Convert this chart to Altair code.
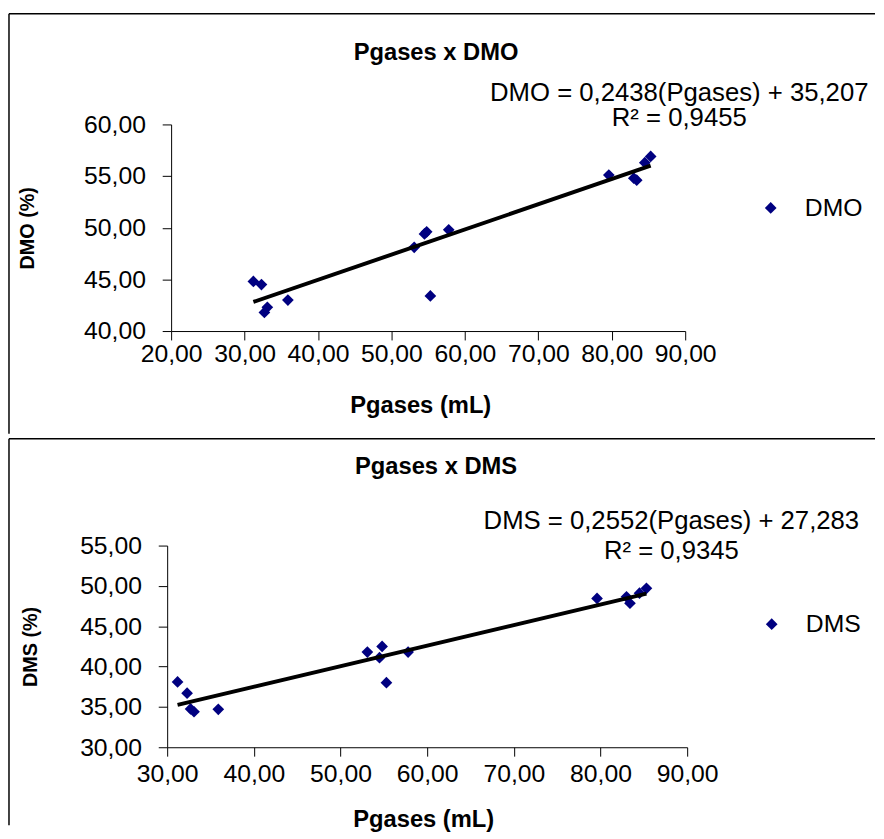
import altair as alt
import pandas as pd

FONT = "Liberation Sans"

# ---- data ----
pgases = [31.2, 32.3, 32.7, 33.1, 35.9, 53.1, 54.5, 54.8, 55.3, 57.8, 79.6, 83.0, 83.4, 84.5, 85.3]
dmo = [44.8, 44.5, 41.8, 42.3, 43.0, 48.1, 49.4, 49.6, 43.4, 49.8, 55.1, 54.8, 54.6, 56.3, 56.9]
dms = [38.1, 36.7, 34.75, 34.4, 34.7, 41.8, 41.1, 42.5, 38.0, 41.8, 48.45, 48.65, 47.85, 49.1, 49.7]

series_names = ["DMO", "DMS"]
titles = ["Pgases x DMO", "Pgases x DMS"]
y_titles = ["DMO (%)", "DMS (%)"]
x_title = "Pgases (mL)"
slopes = [0.2438, 0.2552]
intercepts = [35.207, 27.283]
equations = ["DMO = 0,2438(Pgases) + 35,207", "DMS = 0,2552(Pgases) + 27,283"]
r2_texts = ["R\u00b2 = 0,9455", "R\u00b2 = 0,9345"]
x_domains = [[20, 90], [30, 90]]
y_domains = [[40, 60], [30, 55]]
x_ticks = [[20, 30, 40, 50, 60, 70, 80, 90], [30, 40, 50, 60, 70, 80, 90]]
y_ticks = [[40, 45, 50, 55, 60], [30, 35, 40, 45, 50, 55]]


def panel(i, yvals, w, h, g):
    name = series_names[i]
    pts = pd.DataFrame({"x": pgases, "y": yvals, "s": [name] * len(pgases)})
    x0, x1 = min(pgases), max(pgases)
    line = pd.DataFrame({"x": [x0, x1],
                         "y": [slopes[i] * x0 + intercepts[i], slopes[i] * x1 + intercepts[i]]})

    common_axis = dict(grid=False, tickSize=9, domainColor="black", tickColor="black",
                       domainWidth=1, tickWidth=1, labelColor="black", labelFont=FONT,
                       labelFontSize=25, titleFont=FONT, titleColor="black",
                       titleFontWeight="bold", labelOverlap=False, labelFlush=False,
                       format=".2f", labelExpr="replace(datum.label, '.', ',')",
                       titleAlign="center", titleBaseline="middle")

    xaxis = alt.Axis(values=x_ticks[i], title=x_title, labelPadding=g["xlp"],
                     titleX=g["xtx"], titleY=g["xty"], titleFontSize=24, **common_axis)
    yaxis = alt.Axis(values=y_ticks[i], title=y_titles[i], labelPadding=17, offset=-g["off"],
                     titleAngle=270, titleX=g["ytx"], titleY=h / 2, titleFontSize=20,
                     **common_axis)

    xs = alt.Scale(domain=x_domains[i], nice=False, zero=False, range=[g["off"], w])
    ys = alt.Scale(domain=y_domains[i], nice=False, zero=False)

    points = alt.Chart(pts).mark_point(shape="diamond", filled=True, size=140, opacity=1).encode(
        x=alt.X("x:Q", scale=xs, axis=xaxis),
        y=alt.Y("y:Q", scale=ys, axis=yaxis),
        color=alt.Color("s:N", scale=alt.Scale(domain=[name], range=["#000080"]),
                        legend=alt.Legend(title=None, orient="none", legendX=g["lx"], legendY=g["ly"],
                                          symbolType="diamond", symbolSize=140, labelFont=FONT,
                                          labelFontSize=25, labelColor="black", labelOffset=22,
                                          padding=0, symbolStrokeWidth=0)),
    )
    reg = alt.Chart(line).mark_line(color="black", strokeWidth=4).encode(
        x=alt.X("x:Q", scale=xs), y=alt.Y("y:Q", scale=ys))

    title = alt.Chart(pd.DataFrame({"t": [titles[i]]})).mark_text(
        font=FONT, fontSize=24, fontWeight="bold", color="black",
        align="center", baseline="middle").encode(
        text="t:N", x=alt.value(g["tx"]), y=alt.value(g["ty"]))
    eq = alt.Chart(pd.DataFrame({"t": [equations[i]]})).mark_text(
        font=FONT, fontSize=26, color="black", align="center", baseline="middle").encode(
        text="t:N", x=alt.value(g["ex"]), y=alt.value(g["ey"]))
    r2 = alt.Chart(pd.DataFrame({"t": [r2_texts[i]]})).mark_text(
        font=FONT, fontSize=26, color="black", align="center", baseline="middle").encode(
        text="t:N", x=alt.value(g["ex"]), y=alt.value(g["ry"]))

    one = pd.DataFrame({"a": [0]})
    frame_top = alt.Chart(one).mark_rule(color="black", strokeWidth=1.5).encode(
        x=alt.value(g["fl"]), x2=alt.value(g["fr"]), y=alt.value(g["ft"]))
    frame_left = alt.Chart(one).mark_rule(color="black", strokeWidth=1.5).encode(
        x=alt.value(g["fl"]), y=alt.value(g["ft"]), y2=alt.value(g["fb"]))

    return alt.layer(frame_top, frame_left, points, reg, title, eq, r2).properties(width=w, height=h)


# positions relative to the panel origin (page x 168)
g_top = dict(off=4, xlp=2, xtx=256, xty=75, ytx=-145, lx=598, ly=72, tx=272, ty=-72,
             ex=518, ey=-32, ry=-6, fl=-160, fr=716, ft=-112, fb=313)
g_bot = dict(off=0, xlp=6, xtx=259, xty=73, ytx=-138, lx=599, ly=67, tx=272, ty=-79,
             ex=510, ey=-25, ry=6, fl=-160, fr=716, ft=-108, fb=283)

top = panel(0, dmo, 524, 209, g_top)
bottom = panel(1, dms, 526, 204, g_bot)

chart = alt.vconcat(top, bottom, spacing=3).resolve_scale(
    color="independent", x="independent", y="independent"
).configure_view(stroke=None).properties(
    padding={"left": 0, "top": 0, "right": 0, "bottom": 0}, background="white")

chart.save("out.html", embed_options={"renderer": "svg", "actions": False})
